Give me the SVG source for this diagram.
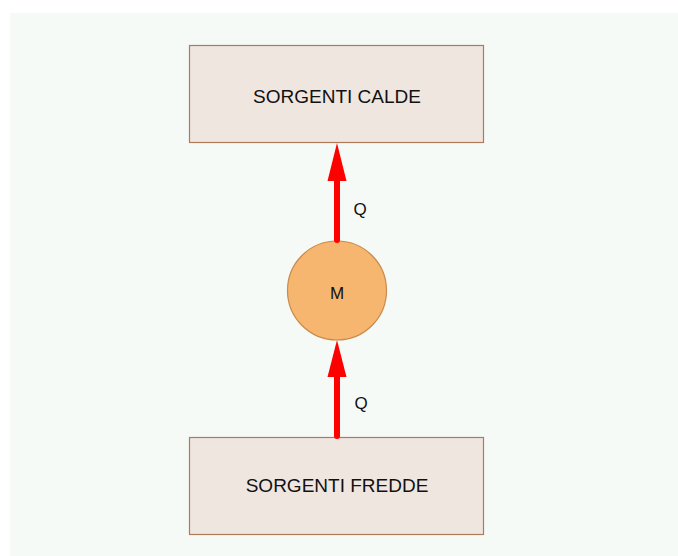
<svg xmlns="http://www.w3.org/2000/svg" width="678" height="556" viewBox="0 0 678 556">
<style>
.box{fill:#f0e6e0;stroke:#b07a5a;stroke-width:1.2}
.lbl{font-family:"Liberation Sans",Arial,sans-serif;fill:#111;text-anchor:middle}
.arr{stroke:#ff0000;stroke-width:6;stroke-linecap:round;fill:none}
.head{fill:#ff0000}
</style>
<rect x="10" y="13" width="668" height="543" fill="#f5faf7"/>
<g id="caldo">
<rect class="box" x="189.5" y="45.5" width="294" height="97"/>
<text class="lbl" x="337" y="103" font-size="19">SORGENTI CALDE</text>
</g>
<g id="fredde">
<rect class="box" x="189.5" y="437.5" width="294" height="97"/>
<text class="lbl" x="337" y="492" font-size="19">SORGENTI FREDDE</text>
</g>
<g id="motore">
<circle cx="337" cy="290.5" r="49.5" fill="#f6b66f" stroke="#c98a4a" stroke-width="1.2"/>
<text class="lbl" x="337" y="299" font-size="17">M</text>
</g>
<g id="connectors">
<line class="arr" x1="337" y1="240" x2="337" y2="178"/>
<polygon class="head" points="337,143 346.5,181 327.5,181"/>
<text class="lbl" x="360" y="215" font-size="17">Q</text>
<line class="arr" x1="337" y1="436" x2="337" y2="374"/>
<polygon class="head" points="337,340 346.5,377 327.5,377"/>
<text class="lbl" x="361" y="409" font-size="17">Q</text>
</g>
</svg>
